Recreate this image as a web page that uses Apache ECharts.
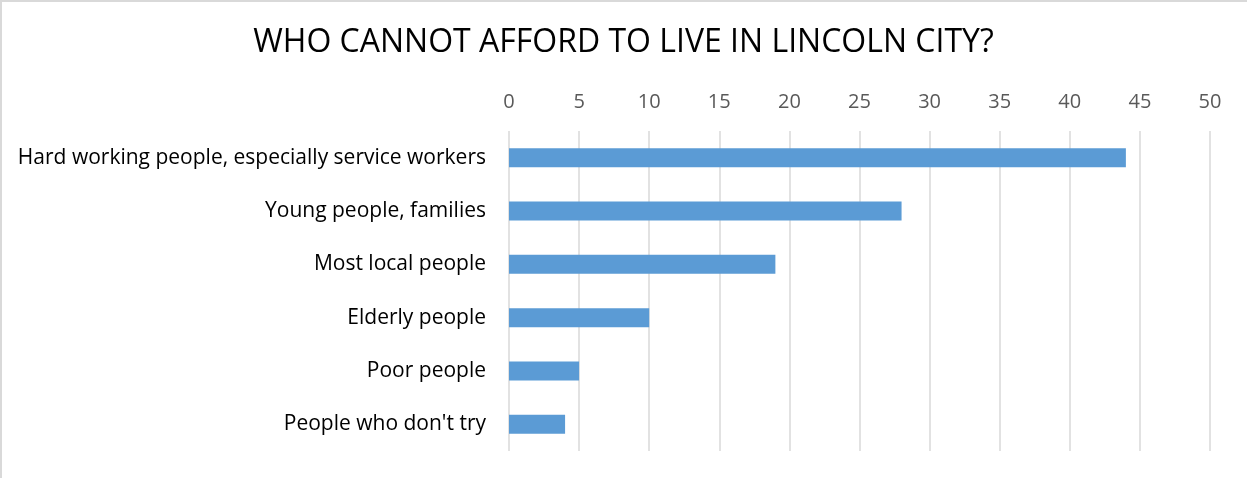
<!DOCTYPE html>
<html>
<head>
<meta charset="utf-8">
<script src="https://cdn.jsdelivr.net/npm/echarts@6/dist/echarts.min.js"></script>
<style>
  html, body { margin: 0; padding: 0; background: #fff; }
  #frame { position: absolute; left: 0; top: 0; width: 1247px; height: 478px; box-sizing: border-box;
           border-left: 2px solid #d9d9d9; border-top: 2px solid #d9d9d9; }
  #chart { position: absolute; left: 0; top: 0; width: 1247px; height: 478px; }
</style>
</head>
<body>
<div id="frame"></div>
<div id="chart"></div>
<script>
// Survey responses, listed top to bottom
const categories = [
  "Hard working people, especially service workers",
  "Young people, families",
  "Most local people",
  "Elderly people",
  "Poor people",
  "People who don't try"
];
const counts = [44, 28, 19, 10, 5, 4];
const tickMin = 0, tickMax = 50, tickStep = 5;

const font = "'Open Sans', 'Noto Sans', sans-serif";
const chart = echarts.init(document.getElementById('chart'));
chart.setOption({
  animation: false,
  title: {
    text: "WHO CANNOT AFFORD TO LIVE IN LINCOLN CITY?",
    left: 'center', top: 22,
    textStyle: { fontFamily: font, fontSize: 32, fontWeight: 'normal', color: '#000' }
  },
  grid: { left: 509, right: 37, top: 131, bottom: 27, containLabel: false },
  xAxis: {
    type: 'value', position: 'top',
    min: tickMin, max: tickMax, interval: tickStep,
    axisLine: { show: false }, axisTick: { show: false },
    splitLine: { show: true, lineStyle: { color: '#d9d9d9', width: 1.5 } },
    axisLabel: { margin: 19, fontFamily: font, fontSize: 20, color: '#595959' }
  },
  yAxis: {
    type: 'category', data: categories, inverse: true,
    axisLine: { show: false }, axisTick: { show: false },
    axisLabel: { margin: 23, fontFamily: font, fontSize: 21, color: '#000' }
  },
  series: [{
    type: 'bar', data: counts, barWidth: 19,
    itemStyle: { color: '#5b9bd5' }
  }]
});
</script>
</body>
</html>
